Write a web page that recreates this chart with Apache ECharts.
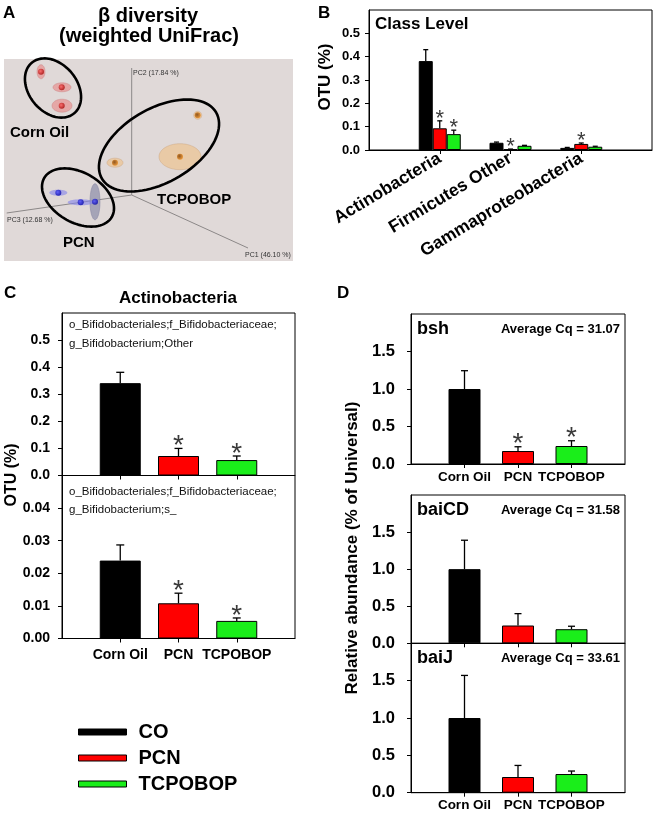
<!DOCTYPE html>
<html><head><meta charset="utf-8">
<script src="https://cdn.jsdelivr.net/npm/echarts@6/dist/echarts.min.js"></script>
<style>html,body{margin:0;padding:0;background:#fff}#c{width:655px;height:814px}</style>
</head><body><div id="c"></div>
<script>
// ================= DATA =================
const groupNames = ['CO', 'PCN', 'TCPOBOP'];

// Panel A: PCoA (weighted UniFrac), projected positions
const pcAxes = [[131.7, 195, 131.7, 68], [131.7, 195, 6.7, 213], [131.7, 195, 248, 248]];
const pcAxisLabels = ['PC2 (17.84 %)', 'PC3 (12.68 %)', 'PC1 (46.10 %)'];
const coPoints = [[41, 71.7], [61.7, 87.3], [61.7, 105.7]];
const tcPoints = [[197.7, 115.3], [180, 156.7], [115, 162.7]];
const pcnPoints = [[58.3, 192.7], [80.7, 202.3], [95, 201.7]];
// spread ellipses: cx, cy, rx, ry, angle(deg)
const coHalos = [[41, 71.7, 4, 7, 0], [62, 87.3, 9, 4.5, 0], [62, 105.7, 10, 6.5, 0]];
const tcHalos = [[197.7, 115.3, 4, 4, 0], [180, 156.7, 21, 13, 0], [115, 162.7, 8, 4.5, 0]];
const pcnHalos = [[58.3, 192.7, 9, 3, 0], [80.7, 202.3, 13, 3, 0]];
const pcnHaloWide = [[95, 201.7, 5, 18, 0]];
const groupEllipses = [[53, 88, 33, 24, 50], [159, 145.5, 66, 37, -30], [78, 197.5, 39, 25, 30]];

// Panel B: class level OTU (%)
const classCats = ['', 'Actinobacteria', 'Firmicutes Other', 'Gammaproteobacteria', ''];
const classMean = {
  CO: ['-', 0.381, 0.031, 0.009, '-'],
  PCN: ['-', 0.093, 0.003, 0.026, '-'],
  TCPOBOP: ['-', 0.068, 0.018, 0.014, '-']
};
const classErr = {
  CO: [null, 0.430, 0.034, 0.011, null],
  PCN: [null, 0.125, 0.004, 0.030, null],
  TCPOBOP: [null, 0.085, 0.020, 0.016, null]
};
const classSig = {
  CO: [0, 0, 0, 0, 0],
  PCN: [0, 1, 1, 1, 0],
  TCPOBOP: [0, 1, 0, 0, 0]
};

// Panel C: Actinobacteria OTUs
const treatCats = ['', 'Corn Oil', 'PCN', 'TCPOBOP', ''];
const otherMean = [0.341, 0.072, 0.057];
const otherErr = [0.381, 0.100, 0.072];
const otherSig = [0, 1, 1];
const sMean = [0.0239, 0.0108, 0.0054];
const sErr = [0.0287, 0.0139, 0.0063];
const sSig = [0, 1, 1];

// Panel D: qPCR relative abundance (% of Universal)
const bshMean = [1.0, 0.173, 0.24];
const bshErr = [1.244, 0.23, 0.31];
const bshSig = [0, 1, 1];
const baiCDMean = [1.0, 0.24, 0.19];
const baiCDErr = [1.39, 0.40, 0.23];
const baiCDSig = [0, 0, 0];
const baiJMean = [1.0, 0.21, 0.25];
const baiJErr = [1.57, 0.365, 0.29];
const baiJSig = [0, 0, 0];

// Y tick settings
const classTicks = {max: 0.6, interval: 0.1, dec: 1};
const otherTicks = {max: 0.6, interval: 0.1, dec: 1};
const sTicks = {max: 0.05, interval: 0.01, dec: 2};
const qTicks = {max: 2.0, interval: 0.5, dec: 1};

// ================= STYLE / BUILD =================
const FONT = "'Liberation Sans', Arial, Helvetica, sans-serif";
const COLORS = {CO: '#000000', PCN: '#ff0000', TCPOBOP: '#1aee1a'};

const chart = echarts.init(document.getElementById('c'), null, {renderer: 'canvas'});

const grids = [
  {left: 4, top: 59, width: 289, height: 202, show: true, backgroundColor: '#e0d9d8', borderWidth: 0},
  {left: 369, top: 10, width: 283, height: 140},
  {left: 62, top: 313, width: 233, height: 162.5},
  {left: 62, top: 475.5, width: 233, height: 163},
  {left: 411, top: 314, width: 214, height: 150},
  {left: 411, top: 495, width: 214, height: 148.3},
  {left: 411, top: 643.3, width: 214, height: 149.4}
].map((g, i) => Object.assign({outerBoundsMode: 'none', containLabel: false},
  i > 0 ? {show: true, borderColor: '#000', borderWidth: 1, backgroundColor: 'transparent'} : {}, g));

function valueAxis(gi, t, fontSize, margin) {
  return {type: 'value', gridIndex: gi, min: 0, max: t.max, interval: t.interval,
    axisLine: {show: true, lineStyle: {color: '#000', width: 1}},
    axisTick: {show: true, length: 4, lineStyle: {color: '#000'}},
    axisLabel: {showMaxLabel: false, formatter: v => v.toFixed(t.dec), fontFamily: FONT,
      fontWeight: 'bold', fontSize: fontSize, color: '#000', margin: margin},
    splitLine: {show: false}};
}
function catAxis(gi, cats, showLabels, fontSize, margin, rotate) {
  return {type: 'category', gridIndex: gi, data: cats, boundaryGap: false,
    axisLine: {show: true, lineStyle: {color: '#000', width: 1}},
    axisTick: {show: true, length: 4, interval: (i, v) => v !== '', lineStyle: {color: '#000'}},
    axisLabel: {show: showLabels, interval: (i, v) => v !== '', rotate: rotate || 0,
      fontFamily: FONT, fontWeight: 'bold', fontSize: fontSize, color: '#000', margin: margin},
    splitLine: {show: false}};
}

const xAxes = [
  {type: 'value', gridIndex: 0, min: 4, max: 293, show: false},
  catAxis(1, classCats, true, 17.5, 7, 31),
  catAxis(2, treatCats, false, 14, 10),
  catAxis(3, treatCats, true, 14, 10),
  catAxis(4, treatCats, true, 13.5, 6),
  catAxis(5, treatCats, false, 13.5, 6),
  catAxis(6, treatCats, true, 13.5, 6)
];
const yAxes = [
  {type: 'value', gridIndex: 0, min: 59, max: 261, inverse: true, show: false},
  valueAxis(1, classTicks, 13, 9),
  valueAxis(2, otherTicks, 14, 12),
  valueAxis(3, sTicks, 14, 12),
  valueAxis(4, qTicks, 16.5, 16),
  valueAxis(5, qTicks, 16.5, 16),
  valueAxis(6, qTicks, 16.5, 16)
];

const series = [];

// ---- Panel A ----
series.push({type: 'custom', xAxisIndex: 0, yAxisIndex: 0, z: 1, silent: true, data: pcAxes,
  renderItem: (p, api) => {
    const a = api.coord([api.value(0), api.value(1)]);
    const b = api.coord([api.value(2), api.value(3)]);
    return {type: 'line', shape: {x1: a[0], y1: a[1], x2: b[0], y2: b[1]},
      style: {stroke: '#8c8888', lineWidth: 1}};
  }});
function ellipseSeries(data, style, z) {
  return {type: 'custom', xAxisIndex: 0, yAxisIndex: 0, z: z, silent: true, data: data,
    renderItem: (params, api) => {
      const cx = api.value(0), cy = api.value(1), rx = api.value(2), ry = api.value(3);
      const a = api.value(4) * Math.PI / 180;
      const pts = [];
      for (let k = 0; k < 90; k++) {
        const t = k / 90 * 2 * Math.PI;
        const ex = rx * Math.cos(t), ey = ry * Math.sin(t);
        pts.push(api.coord([cx + ex * Math.cos(a) - ey * Math.sin(a), cy + ex * Math.sin(a) + ey * Math.cos(a)]));
      }
      return {type: 'polygon', shape: {points: pts}, style: style};
    }};
}
series.push(ellipseSeries(coHalos, {fill: 'rgba(232,140,140,0.65)', stroke: 'rgba(200,120,120,0.4)', lineWidth: 1}, 2));
series.push(ellipseSeries(tcHalos, {fill: 'rgba(236,196,150,0.75)', stroke: 'rgba(200,160,120,0.4)', lineWidth: 1}, 2));
series.push(ellipseSeries(pcnHaloWide, {fill: 'rgba(150,150,175,0.8)', stroke: 'rgba(130,130,160,0.5)', lineWidth: 1}, 2));
series.push(ellipseSeries(pcnHalos, {fill: 'rgba(130,130,235,0.6)', stroke: 'none'}, 2));
function sphere(c0, c1) {
  return {type: 'radial', x: 0.4, y: 0.4, r: 0.65, colorStops: [{offset: 0, color: c0}, {offset: 1, color: c1}]};
}
[[coPoints, sphere('#ff6060', '#a00000')], [tcPoints, sphere('#7a3a00', '#f09020')], [pcnPoints, sphere('#5050ff', '#0000a0')]]
  .forEach(([d, col]) => series.push({type: 'scatter', xAxisIndex: 0, yAxisIndex: 0, z: 3, silent: true,
    data: d, symbol: 'circle', symbolSize: 6, itemStyle: {color: col}}));
series.push(ellipseSeries(groupEllipses, {fill: 'none', stroke: '#000', lineWidth: 2.6}, 4));

// ---- helpers for bars ----
function errSeries(xi, yi, means, errs, sigs, offset, capW, starSize) {
  const data = [];
  means.forEach((m, i) => { if (m !== '-' && m != null) data.push([i, m, errs[i], sigs[i]]); });
  return {type: 'custom', xAxisIndex: xi, yAxisIndex: yi, z: 5, silent: true, data: data,
    renderItem: (params, api) => {
      const p0 = api.coord([api.value(0), api.value(1)]);
      const p1 = api.coord([api.value(0), api.value(2)]);
      const x = p0[0] + offset;
      const ch = [
        {type: 'line', shape: {x1: x, y1: p0[1], x2: x, y2: p1[1]}, style: {stroke: '#000', lineWidth: 1.3}},
        {type: 'line', shape: {x1: x - capW / 2, y1: p1[1], x2: x + capW / 2, y2: p1[1]}, style: {stroke: '#000', lineWidth: 1.3}}
      ];
      if (api.value(3)) ch.push({type: 'text', x: x, y: p1[1] - 2,
        style: {text: '*', fontSize: starSize, fontFamily: FONT, fill: '#3a3a3a', align: 'center', verticalAlign: 'middle'}});
      return {type: 'group', children: ch};
    }};
}
function barSeries(name, xi, yi, data, width, gap) {
  return {type: 'bar', name: name, xAxisIndex: xi, yAxisIndex: yi, data: data, barWidth: width, barGap: gap, z: 2,
    silent: true, itemStyle: {color: COLORS[name], borderColor: '#000', borderWidth: 1}};
}

// ---- Panel B (grouped) ----
const bW = 14;
groupNames.forEach((g, k) => {
  series.push(barSeries(g, 1, 1, classMean[g], bW, '0%'));
  series.push(errSeries(1, 1, classMean[g], classErr[g], classSig[g], (k - 1) * bW, 5, 22));
});

// ---- Panels C & D (one bar per category) ----
function spread(arr, k) { return treatCats.map((c, i) => i === k + 1 ? arr[k] : '-'); }
function treatPanel(axisIdx, mean, err, sig, width, cap, star) {
  groupNames.forEach((g, k) => series.push(barSeries(g, axisIdx, axisIdx, spread(mean, k), width, '-100%')));
  const m = treatCats.map((c, i) => (i >= 1 && i <= 3) ? mean[i - 1] : '-');
  const e = treatCats.map((c, i) => (i >= 1 && i <= 3) ? err[i - 1] : null);
  const s = treatCats.map((c, i) => (i >= 1 && i <= 3) ? sig[i - 1] : 0);
  series.push(errSeries(axisIdx, axisIdx, m, e, s, 0, cap, star));
}
treatPanel(2, otherMean, otherErr, otherSig, 41, 8, 28);
treatPanel(3, sMean, sErr, sSig, 41, 8, 28);
treatPanel(4, bshMean, bshErr, bshSig, 32, 7, 28);
treatPanel(5, baiCDMean, baiCDErr, baiCDSig, 32, 7, 28);
treatPanel(6, baiJMean, baiJErr, baiJSig, 32, 7, 28);

// ---- text annotations ----
function txt(text, x, y, size, opts) {
  opts = opts || {};
  return {type: 'text', x: x, y: y, rotation: opts.rot || 0, silent: true, z: 10,
    style: {text: text, fontFamily: FONT, fontSize: size, fontWeight: opts.weight || 'bold',
      fill: opts.color || '#000', align: opts.align || 'left', verticalAlign: 'middle'}};
}
const R = Math.PI / 2;
const graphic = [
  txt('A', 3, 13, 17), txt('B', 318, 13, 17), txt('C', 4, 293, 17), txt('D', 337, 293, 17),
  txt('β diversity', 148, 16, 20, {align: 'center'}),
  txt('(weighted UniFrac)', 149, 36, 20, {align: 'center'}),
  txt(pcAxisLabels[0], 133, 73, 7, {weight: 'normal', color: '#333'}),
  txt(pcAxisLabels[1], 7, 220, 7, {weight: 'normal', color: '#333'}),
  txt(pcAxisLabels[2], 245, 255, 7, {weight: 'normal', color: '#333'}),
  txt('Corn Oil', 10, 133, 15), txt('TCPOBOP', 157, 200, 15), txt('PCN', 63, 243, 15),
  txt('Class Level', 375, 24, 17),
  txt('OTU (%)', 325, 77, 17, {align: 'center', rot: R}),
  txt('Actinobacteria', 178, 298, 17, {align: 'center'}),
  txt('OTU (%)', 12, 475, 16, {align: 'center', rot: R}),
  txt('o_Bifidobacteriales;f_Bifidobacteriaceae;', 69, 325, 11.5, {weight: 'normal', color: '#111'}),
  txt('g_Bifidobacterium;Other', 69, 344, 11.5, {weight: 'normal', color: '#111'}),
  txt('o_Bifidobacteriales;f_Bifidobacteriaceae;', 69, 492, 11.5, {weight: 'normal', color: '#111'}),
  txt('g_Bifidobacterium;s_', 69, 510, 11.5, {weight: 'normal', color: '#111'}),
  txt('bsh', 417, 329, 18), txt('Average Cq = 31.07', 620, 329, 13, {align: 'right'}),
  txt('baiCD', 417, 510, 18), txt('Average Cq = 31.58', 620, 510, 13, {align: 'right'}),
  txt('baiJ', 417, 658, 18), txt('Average Cq = 33.61', 620, 658, 13, {align: 'right'}),
  txt('Relative abundance (% of Universal)', 352, 548, 17, {align: 'center', rot: R})
];

chart.setOption({
  animation: false,
  textStyle: {fontFamily: FONT},
  grid: grids,
  xAxis: xAxes,
  yAxis: yAxes,
  legend: {data: groupNames, orient: 'vertical', left: 73, top: 717, itemWidth: 48, itemHeight: 6, itemGap: 6,
    icon: 'rect', selectedMode: false,
    itemStyle: {borderColor: '#000', borderWidth: 1},
    textStyle: {fontFamily: FONT, fontWeight: 'bold', fontSize: 20, color: '#000', padding: [0, 0, 0, 7]}},
  series: series,
  graphic: graphic
});
</script></body></html>
